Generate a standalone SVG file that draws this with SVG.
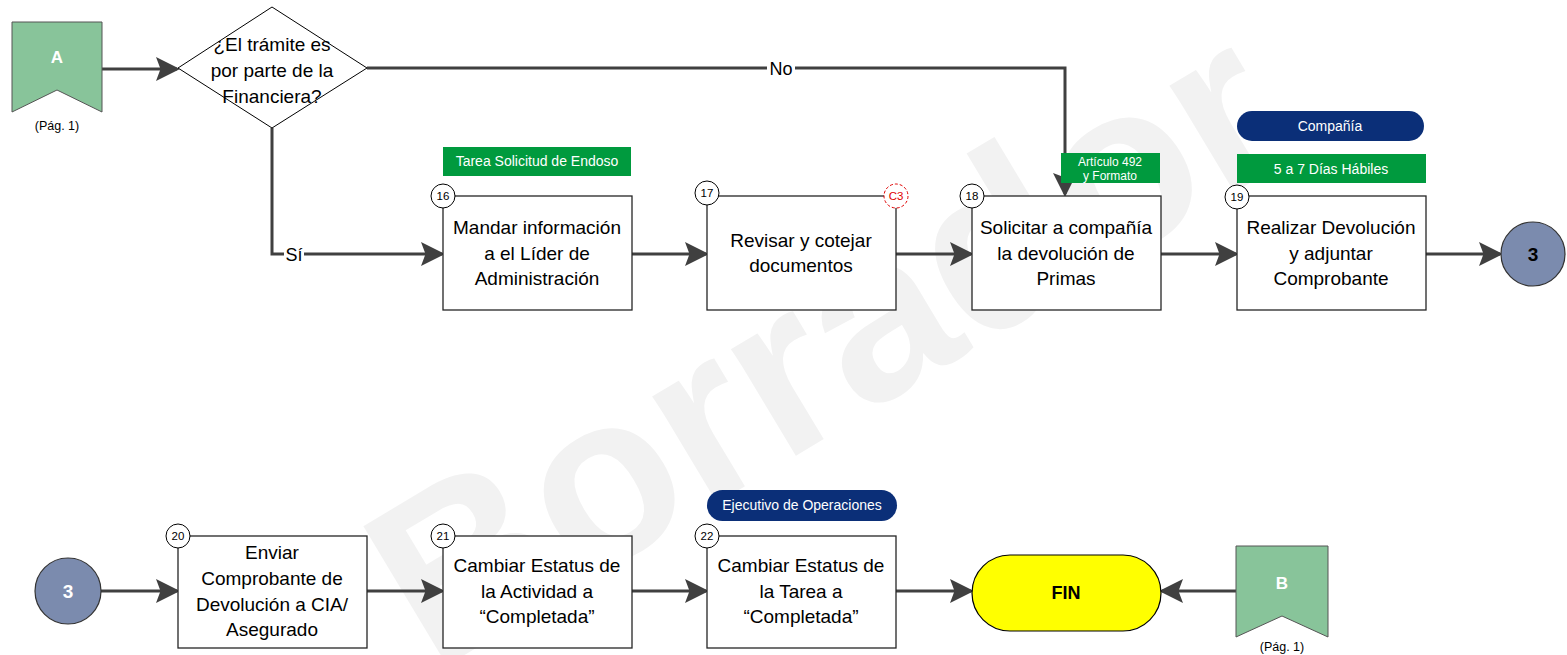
<svg xmlns="http://www.w3.org/2000/svg" width="1567" height="655" viewBox="0 0 1567 655">
<defs>
<marker id="arr" markerWidth="8" markerHeight="8" refX="7" refY="4" orient="auto" markerUnits="strokeWidth">
<path d="M0,0 L8,4 L0,8 L1.5,4 Z" fill="#404040"/>
</marker>
<style>
.t{font-family:"Liberation Sans",Arial,sans-serif;}
.box{fill:#fff;stroke:#262626;stroke-width:1.3;}
.bt{font-family:"Liberation Sans",Arial,sans-serif;font-size:19px;fill:#000;text-anchor:middle;}
.num{fill:#fff;stroke:#000;stroke-width:1;}
.nt{font-family:"Liberation Sans",Arial,sans-serif;font-size:11.5px;fill:#000;text-anchor:middle;}
.con{fill:none;stroke:#404040;stroke-width:3;marker-end:url(#arr);}
.lbl{font-family:"Liberation Sans",Arial,sans-serif;font-size:18px;fill:#000;text-anchor:middle;}
.green{fill:#009a3e;}
.navy{fill:#0b2f78;}
.wt{font-family:"Liberation Sans",Arial,sans-serif;fill:#fff;text-anchor:middle;}
.off{fill:#88c49a;stroke:#555;stroke-width:1;}
.conn{fill:#7b8bae;stroke:#333;stroke-width:1.2;}
</style>
</defs>
<rect width="1567" height="655" fill="#fff"/>
<g id="watermark">
<text class="t" transform="translate(825,345) rotate(-31)" x="0" y="80" font-size="236" font-weight="bold" fill="#f2f2f2" text-anchor="middle">Borrador</text>
</g>
<g id="connectors">
<line class="con" x1="102" y1="69" x2="177" y2="69"/>
<polyline class="con" points="367,68 1065,68 1065,194"/>
<polyline class="con" points="272,128 272,254 442,254"/>
<line class="con" x1="632" y1="254" x2="706" y2="254"/>
<line class="con" x1="896" y1="254" x2="971" y2="254"/>
<line class="con" x1="1161" y1="254" x2="1236" y2="254"/>
<line class="con" x1="1426" y1="254" x2="1500" y2="254"/>
<line class="con" x1="101" y1="591" x2="177" y2="591"/>
<line class="con" x1="367" y1="591" x2="442" y2="591"/>
<line class="con" x1="632" y1="591" x2="706" y2="591"/>
<line class="con" x1="896" y1="591" x2="971" y2="591"/>
<line class="con" x1="1236" y1="591" x2="1162" y2="591"/>
<rect x="767" y="58" width="28" height="20" fill="#fff"/>
<text class="lbl" x="781" y="75">No</text>
<rect x="284" y="244" width="20" height="20" fill="#fff"/>
<text class="lbl" x="294" y="261">Sí</text>
</g>
<g id="offA">
<polygon class="off" points="12,22 102,22 102,112 57,90 12,112"/>
<text class="wt" x="57" y="63" font-size="17" font-weight="bold">A</text>
<text class="t" x="57" y="130" font-size="12.5" text-anchor="middle">(Pág. 1)</text>
</g>
<g id="decision">
<polygon points="178,68 272,7 367,68 272,128" fill="#fff" stroke="#000" stroke-width="1"/>
<text class="bt" x="272" y="51">¿El trámite es</text>
<text class="bt" x="272" y="77">por parte de la</text>
<text class="bt" x="272" y="103">Financiera?</text>
</g>
<g id="n16">
<rect class="green" x="443" y="147" width="188" height="29"/>
<text class="wt" x="537" y="166" font-size="14">Tarea Solicitud de Endoso</text>
<rect class="box" x="443" y="196" width="189" height="114"/>
<circle class="num" cx="443" cy="196" r="12"/>
<text class="nt" x="443" y="200">16</text>
<text class="bt" x="537" y="234">Mandar información</text>
<text class="bt" x="537" y="260">a el Líder de</text>
<text class="bt" x="537" y="285">Administración</text>
</g>
<g id="n17">
<rect class="box" x="707" y="196" width="189" height="114"/>
<circle class="num" cx="707" cy="193" r="12"/>
<text class="nt" x="707" y="197">17</text>
<circle cx="896" cy="196" r="12" fill="#fff" stroke="#e00000" stroke-width="1" stroke-dasharray="3,2"/>
<text class="nt" x="896" y="200" style="fill:#e00000">C3</text>
<text class="bt" x="801" y="247">Revisar y cotejar</text>
<text class="bt" x="801" y="272">documentos</text>
</g>
<g id="n18">
<rect class="green" x="1061" y="153" width="99" height="30"/>
<text class="wt" x="1110" y="166" font-size="12">Artículo 492</text>
<text class="wt" x="1110" y="180" font-size="12">y Formato</text>
<rect class="box" x="972" y="196" width="189" height="114"/>
<circle class="num" cx="972" cy="196" r="12"/>
<text class="nt" x="972" y="200">18</text>
<text class="bt" x="1066" y="234">Solicitar a compañía</text>
<text class="bt" x="1066" y="260">la devolución de</text>
<text class="bt" x="1066" y="285">Primas</text>
</g>
<g id="n19">
<rect class="navy" x="1237" y="111" width="187" height="30" rx="15"/>
<text class="wt" x="1330" y="131" font-size="14">Compañía</text>
<rect class="green" x="1237" y="154" width="189" height="29"/>
<text class="wt" x="1331" y="174" font-size="14">5 a 7 Días Hábiles</text>
<rect class="box" x="1237" y="196" width="189" height="114"/>
<circle class="num" cx="1237" cy="197" r="12"/>
<text class="nt" x="1237" y="201">19</text>
<text class="bt" x="1331" y="234">Realizar Devolución</text>
<text class="bt" x="1331" y="260">y adjuntar</text>
<text class="bt" x="1331" y="285">Comprobante</text>
</g>
<g id="c3top">
<circle class="conn" cx="1533" cy="254" r="32"/>
<text class="t" x="1533" y="261" font-size="19" font-weight="bold" text-anchor="middle">3</text>
</g>
<g id="c3bot">
<circle class="conn" cx="68" cy="591" r="33"/>
<text class="wt" x="68" y="598" font-size="19" font-weight="bold">3</text>
</g>
<g id="n20">
<rect class="box" x="178" y="536" width="189" height="112"/>
<circle class="num" cx="178" cy="536" r="12"/>
<text class="nt" x="178" y="540">20</text>
<text class="bt" x="272" y="559">Enviar</text>
<text class="bt" x="272" y="585">Comprobante de</text>
<text class="bt" x="272" y="611">Devolución a CIA/</text>
<text class="bt" x="272" y="636">Asegurado</text>
</g>
<g id="n21">
<rect class="box" x="443" y="536" width="189" height="112"/>
<circle class="num" cx="443" cy="536" r="12"/>
<text class="nt" x="443" y="540">21</text>
<text class="bt" x="537" y="572">Cambiar Estatus de</text>
<text class="bt" x="537" y="598">la Actividad a</text>
<text class="bt" x="537" y="623">“Completada”</text>
</g>
<g id="n22">
<rect class="navy" x="707" y="490" width="190" height="31" rx="15.5"/>
<text class="wt" x="802" y="510" font-size="14">Ejecutivo de Operaciones</text>
<rect class="box" x="707" y="536" width="189" height="112"/>
<circle class="num" cx="707" cy="536" r="12"/>
<text class="nt" x="707" y="540">22</text>
<text class="bt" x="801" y="572">Cambiar Estatus de</text>
<text class="bt" x="801" y="598">la Tarea a</text>
<text class="bt" x="801" y="623">“Completada”</text>
</g>
<g id="fin">
<rect x="972" y="555" width="189" height="76" rx="38" fill="#ffff00" stroke="#000" stroke-width="1.2"/>
<text class="t" x="1066" y="599" font-size="18" font-weight="bold" text-anchor="middle">FIN</text>
</g>
<g id="offB">
<polygon class="off" points="1236,546 1328,546 1328,637 1282,616 1236,637"/>
<text class="wt" x="1282" y="589" font-size="17" font-weight="bold">B</text>
<text class="t" x="1282" y="651" font-size="12.5" text-anchor="middle">(Pág. 1)</text>
</g>
</svg>
